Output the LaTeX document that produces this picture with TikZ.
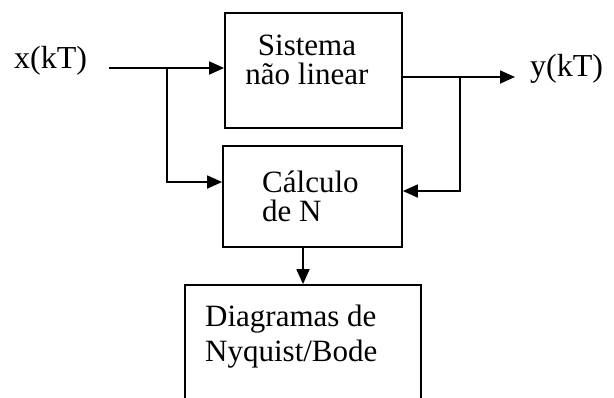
\documentclass[tikz,border=0pt]{standalone}
\usepackage{fontspec}
\setmainfont{Liberation Serif}
\usetikzlibrary{arrows.meta}
\tikzset{
  blk/.style={draw=black, line width=1.8pt, inner sep=0pt, fill=none},
  conn/.style={line width=1.8pt, draw=black},
  arr/.style={conn, -{Triangle[length=15pt,width=13pt]}},
  lbl/.style={inner sep=0pt, font=\fontsize{31}{29}\selectfont},
  sig/.style={inner sep=0pt, font=\fontsize{32}{36}\selectfont, anchor=west},
}
\begin{document}
\begin{tikzpicture}[x=1pt,y=-1pt]
\useasboundingbox (0,0) rectangle (614,397);
\clip (0,0) rectangle (614,397);
\fill[white] (0,0) rectangle (614,397);
% blocks
\node[blk, minimum width=177pt, minimum height=115pt] (b1) at (313.5,70.5) {};
\node[blk, minimum width=179pt, minimum height=101pt] (b2) at (312.5,196.5) {};
\node[blk, minimum width=236pt, minimum height=150pt] (b3) at (303,360) {};
% texts
\node[lbl, align=center] (t1) at (307,60) {Sistema\\não linear};
\node[lbl, align=left, anchor=west] (t2) at (262,196) {Cálculo\\de N};
\node[lbl, align=left, anchor=west, font=\fontsize{31}{35}\selectfont] (t3) at (205,337) {Diagramas de\\Nyquist/Bode};
\node[sig] (xl) at (14,61) {x(kT)};
\node[sig] (yl) at (530,69) {y(kT)};
% signal coordinates
\coordinate (xin) at (109,68);
\coordinate (xbr) at (167,68);
\coordinate (ybr) at (460,77);
\coordinate (yout) at (515,77);
% connectors
\draw[arr] (xin) -- (xin -| b1.west);
\draw[arr] (xbr) |- (b2.west |- 0,182);
\draw[arr] (b1.east |- ybr) -- (yout);
\draw[arr] (ybr) |- (b2.east |- 0,191);
\draw[arr] (b2.south -| 303,0) -- (b3.north -| 303,0);
\end{tikzpicture}
\end{document}
